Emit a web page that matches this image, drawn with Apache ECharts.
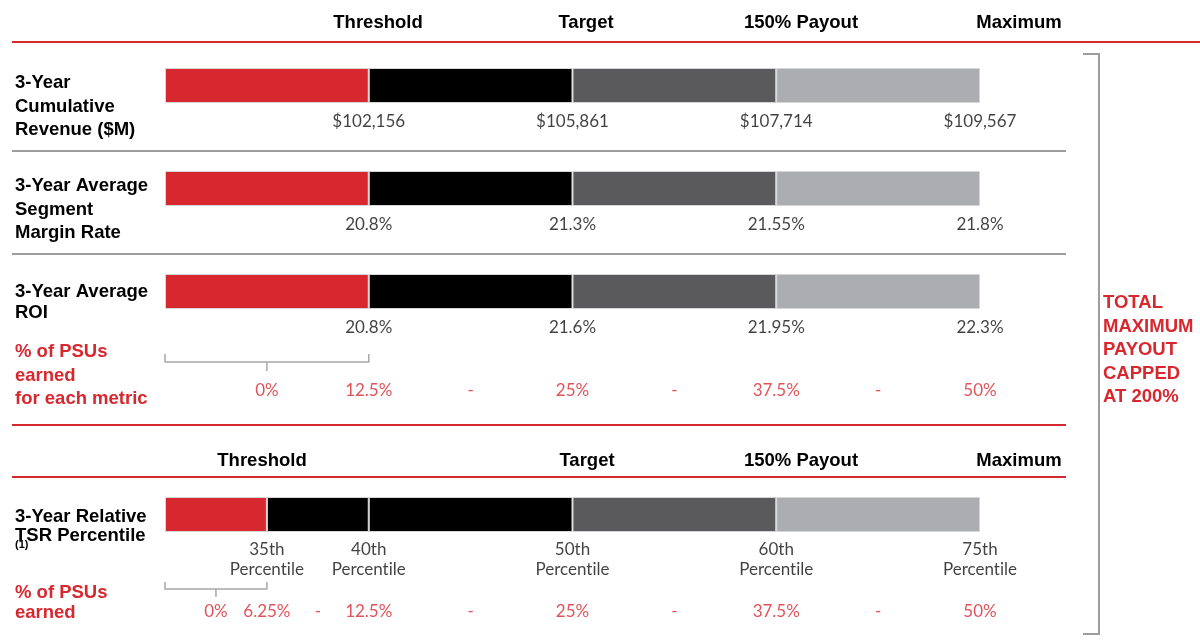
<!DOCTYPE html>
<html>
<head>
<meta charset="utf-8">
<script src="https://cdn.jsdelivr.net/npm/echarts@6/dist/echarts.min.js"></script>
<style>
  html, body { margin: 0; padding: 0; background: #fff; }
  #chart { width: 1200px; height: 641px; }
</style>
</head>
<body>
<div id="chart"></div>
<script>
// Column headings: payout levels
const payoutLevels = ['Threshold', 'Target', '150% Payout', 'Maximum'];
// % of PSUs earned at each payout level, for each financial metric
const psuEarned = [12.5, 25, 37.5, 50];
// Financial metric goals at each payout level
const revenueGoals = ['$102,156', '$105,861', '$107,714', '$109,567'];
const marginGoals = ['20.8%', '21.3%', '21.55%', '21.8%'];
const roiGoals = ['20.8%', '21.6%', '21.95%', '22.3%'];
// Relative TSR: % of PSUs earned at each percentile goal
const tsrEarned = [6.25, 12.5, 25, 37.5, 50];
const tsrGoals = ['35th\nPercentile', '40th\nPercentile', '50th\nPercentile', '60th\nPercentile', '75th\nPercentile'];
// Metric names
const metricNames = [
  '3-Year\nCumulative\nRevenue ($M)',
  '3-Year Average\nSegment\nMargin Rate',
  '3-Year Average\nROI',
  '3-Year Relative\nTSR Percentile'
];
const psuTitles = ['% of PSUs\nearned\nfor each metric', '% of PSUs\nearned'];
const capNote = 'TOTAL\nMAXIMUM\nPAYOUT\nCAPPED\nAT 200%';

// Colours
const RED = '#d8282f';
const BLACK = '#000000';
const DARK = '#5a5a5c';
const LIGHT = '#acadb0';
const RULE_GREY = '#9d9d9f';
const TEXT = '#111111';

const BOLD = 'bold 18.5px "Liberation Sans", Arial, sans-serif';
const REG_FAMILY = 'Lato, "Open Sans", sans-serif';

// Keep "ti" as two separate glyphs (Lato would otherwise join them)
const noLigature = s => s.replace(/ti/g, 't\u200Ci');

// Layout of the panels
const PLOT_LEFT = 165, PLOT_RIGHT = 220;
const barRows = [
  { top: 68,  bounds: [0].concat(psuEarned), colors: [RED, BLACK, DARK, LIGHT], labels: revenueGoals, offset: 36 },
  { top: 171, bounds: [0].concat(psuEarned), colors: [RED, BLACK, DARK, LIGHT], labels: marginGoals, offset: 36 },
  { top: 274, bounds: [0].concat(psuEarned), colors: [RED, BLACK, DARK, LIGHT], labels: roiGoals, offset: 36 },
  { top: 497, bounds: [0].concat(tsrEarned), colors: [RED, BLACK, BLACK, DARK, LIGHT], labels: tsrGoals, offset: 45 }
];
const BAR_H = 35;
const psuRows = [
  { top: 380, values: psuEarned, bracket: { h: -18, ends: -26, tick: -9 } },
  { top: 601, values: tsrEarned, bracket: { h: -12, ends: -19, tick: -4 } }
];
const PSU_H = 22;

const grids = [], xAxes = [], yAxes = [], series = [];

function addGrid(top, height) {
  const idx = grids.length;
  grids.push({ left: PLOT_LEFT, right: PLOT_RIGHT, top: top, height: height });
  xAxes.push({ gridIndex: idx, type: 'value', min: 0, max: 50, show: false });
  yAxes.push({ gridIndex: idx, type: 'category', data: ['row'], show: false });
  return idx;
}

const pct = v => v + '%';

// Segmented bars with goal labels at each segment boundary
barRows.forEach((row, r) => {
  const g = addGrid(row.top, BAR_H);
  for (let i = 0; i < row.colors.length; i++) {
    series.push({
      type: 'bar',
      xAxisIndex: g, yAxisIndex: g,
      stack: 'row' + r,
      barWidth: '100%',
      silent: true,
      data: [row.bounds[i + 1] - row.bounds[i]],
      itemStyle: { color: row.colors[i], borderColor: '#d6d6d6', borderWidth: 1 }
    });
  }
  series.push({
    type: 'scatter',
    xAxisIndex: g, yAxisIndex: g,
    clip: false,
    symbolSize: 1,
    itemStyle: { color: 'rgba(0,0,0,0)' },
    data: row.bounds.slice(1).map((x, i) => ({ value: [x, 0], name: row.labels[i] })),
    label: {
      show: true,
      position: 'inside',
      offset: [0, row.offset],
      formatter: p => noLigature(p.name),
      color: TEXT,
      fontFamily: REG_FAMILY,
      fontSize: 17,
      lineHeight: 19.5,
      align: 'center',
      verticalAlign: 'middle'
    }
  });
});

// % of PSUs earned rows, with bracket under the below-threshold band
psuRows.forEach(row => {
  const g = addGrid(row.top, PSU_H);
  const vals = row.values;
  const items = [{ value: [vals[0] / 2, 0], name: '0%' }];
  vals.forEach((v, i) => {
    if (i > 0) items.push({ value: [(vals[i - 1] + v) / 2, 0], name: '-' });
    items.push({ value: [v, 0], name: pct(v) });
  });
  series.push({
    type: 'scatter',
    xAxisIndex: g, yAxisIndex: g,
    clip: false,
    symbolSize: 1,
    itemStyle: { color: 'rgba(0,0,0,0)' },
    data: items,
    label: {
      show: true, position: 'inside', formatter: p => p.name,
      color: RED, fontFamily: REG_FAMILY, fontSize: 17,
      align: 'center', verticalAlign: 'middle'
    }
  });
  const b = row.bracket;
  series.push({
    type: 'custom',
    xAxisIndex: g, yAxisIndex: g,
    clip: false,
    silent: true,
    data: [[0, vals[0]]],
    renderItem: (params, api) => {
      const a = api.coord([api.value(0), 0]);
      const c = api.coord([api.value(1), 0]);
      const y0 = params.coordSys.y;
      const mid = (a[0] + c[0]) / 2;
      const st = { stroke: '#a8a8aa', lineWidth: 1.5, fill: null };
      return {
        type: 'group',
        children: [
          { type: 'polyline', shape: { points: [[a[0], y0 + b.ends], [a[0], y0 + b.h], [c[0], y0 + b.h], [c[0], y0 + b.ends]] }, style: st },
          { type: 'line', shape: { x1: mid, y1: y0 + b.h, x2: mid, y2: y0 + b.tick }, style: st }
        ]
      };
    }
  });
});

// Static text and rules
const graphic = [];
function hline(y, x1, x2, color) {
  graphic.push({ type: 'line', silent: true, shape: { x1: x1, y1: y, x2: x2, y2: y }, style: { stroke: color, lineWidth: 2 } });
}
function text(str, x, yFirst, lh, font, fill, align) {
  graphic.push({
    type: 'text', silent: true,
    style: { text: str, x: x, y: yFirst - lh / 2, font: font, fill: fill, lineHeight: lh, align: align || 'left', verticalAlign: 'top' }
  });
}

hline(42, 12, 1200, RED);
hline(151, 12, 1066, RULE_GREY);
hline(254, 12, 1066, RULE_GREY);
hline(425, 12, 1066, RED);
hline(477, 12, 1066, RED);

// Header rows
const headerX = [[378, 586, 801, 1019], [262, 587, 801, 1019]];
const headerY = [23, 461];
headerY.forEach((y, h) => {
  payoutLevels.forEach((name, i) => text(name, headerX[h][i], y, 22, BOLD, '#000', 'center'));
});

// Metric names
const nameY = [[83, 23.5], [186, 23.5], [292, 21], [517, 19]];
metricNames.forEach((n, i) => text(n, 15, nameY[i][0], nameY[i][1], BOLD, '#000'));
text('(1)', 15, 545, 12, 'bold 11px "Liberation Sans", Arial, sans-serif', '#000');

// PSU row titles
text(psuTitles[0], 15, 352, 23.5, BOLD, RED);
text(psuTitles[1], 15, 593, 20, BOLD, RED);

// Overall cap bracket and note
graphic.push({
  type: 'polyline', silent: true,
  shape: { points: [[1083, 54], [1099, 54], [1099, 634], [1083, 634]] },
  style: { stroke: RULE_GREY, lineWidth: 2, fill: null }
});
text(capNote, 1103, 303, 23.5, BOLD, RED);

const chart = echarts.init(document.getElementById('chart'), null, { renderer: 'canvas' });
chart.setOption({
  animation: false,
  backgroundColor: '#fff',
  grid: grids,
  xAxis: xAxes,
  yAxis: yAxes,
  series: series,
  graphic: graphic
});
</script>
</body>
</html>
